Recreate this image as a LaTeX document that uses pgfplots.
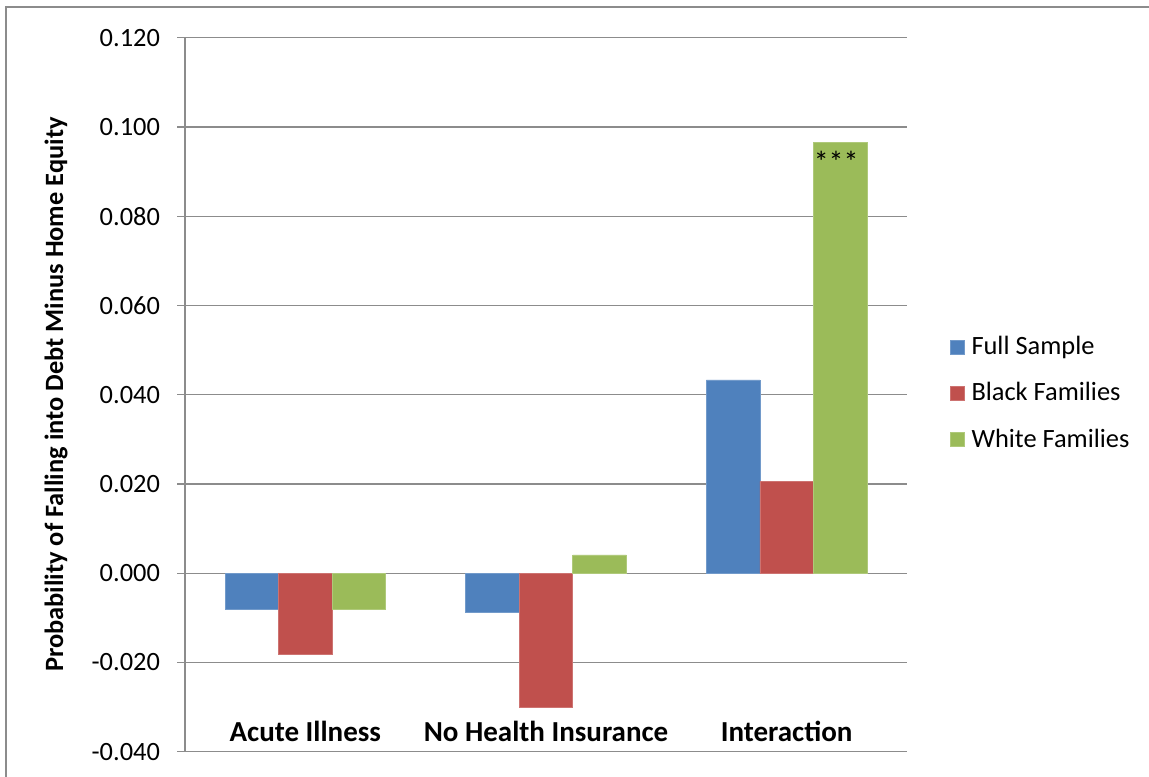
\documentclass[border=0pt]{standalone}
\usepackage{pgfplots}
\pgfplotsset{compat=1.18}
\usepackage{fontspec}
\setmainfont{Carlito}
\definecolor{cBlue}{HTML}{4F81BD}
\definecolor{cRed}{HTML}{C0504D}
\definecolor{cGreen}{HTML}{9BBB59}
\definecolor{cGrid}{HTML}{8C8C8C}
\begin{document}
\begin{tikzpicture}
\useasboundingbox (0,0) rectangle (574.5pt,388pt);
\draw[cGrid, line width=1pt] (3pt,-10pt) -- (3pt,384.5pt) -- (600pt,384.5pt);
\begin{axis}[
  at={(92.5pt,12.15pt)}, anchor=south west,
  scale only axis, width=361pt, height=357pt,
  ymin=-0.04, ymax=0.12,
  xmin=-0.5, xmax=2.5,
  ytick={-0.04,-0.02,0,0.02,0.04,0.06,0.08,0.1,0.12},
  ymajorgrids, grid style={cGrid, line width=0.6pt},
  axis lines*=left,
  axis line style={cGrid, line width=0.6pt},
  tick align=outside, major tick length=4pt,
  ytick style={cGrid, line width=0.6pt},
  xtick={0,1,2}, xtick style={draw=none},
  xticklabels={Acute Illness, No Health Insurance, Interaction},
  xticklabel style={font=\fontsize{14.5}{16}\selectfont\bfseries, anchor=base, yshift=9pt},
  yticklabel style={font=\fontsize{13.2}{15}\selectfont, xshift=-5pt, /pgf/number format/fixed, /pgf/number format/zerofill, /pgf/number format/precision=3},
  /pgf/number format/assume math mode=true,
  scaled y ticks=false,
  ylabel={Probability of Falling into Debt Minus Home Equity},
  ylabel style={font=\fontsize{13.2}{15}\selectfont\bfseries, at={(axis description cs:-0.1787,0.5)}, anchor=center},
  ybar=0pt, bar width=26.75pt,
  legend style={draw=none, fill=none, at={(1.0503,0.502)}, anchor=west, row sep=8.5pt,
    font=\fontsize{13.2}{15}\selectfont},
  legend cell align=left,
  legend image code/.code={\fill[#1] (0pt,-3.5pt) rectangle (7pt,3.5pt); \path (8.5pt,0pt);},
]
\addplot[fill=cBlue, draw=cBlue!80!white] coordinates {(0,-0.0081) (1,-0.0087) (2,0.0433)};
\addplot[fill=cRed, draw=cRed!80!white] coordinates {(0,-0.0182) (1,-0.0300) (2,0.0206)};
\addplot[fill=cGreen, draw=cGreen!80!white,
  nodes near coords, point meta=explicit symbolic,
  every node near coord/.append style={anchor=north, font=\fontsize{15}{17}\selectfont, yshift=-1pt, xshift=-2pt}]
  coordinates {(0,-0.0081) [] (1,0.0041) [] (2,0.0966) [***]};
\legend{Full Sample, Black Families, White Families}
\end{axis}
\end{tikzpicture}
\end{document}
